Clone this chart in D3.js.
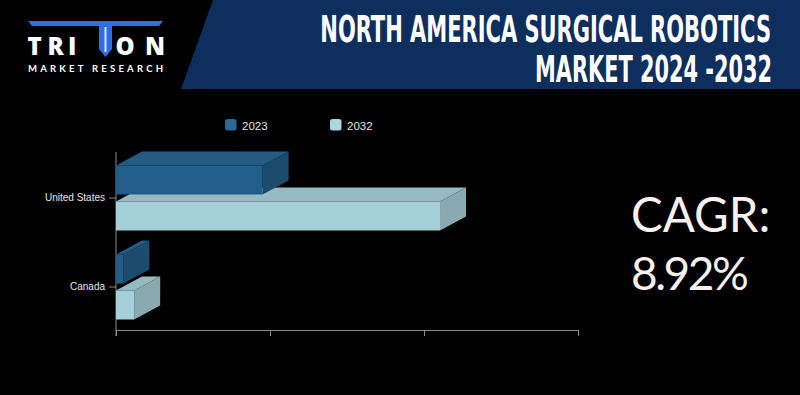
<!DOCTYPE html>
<html>
<head>
<meta charset="utf-8">
<script src="https://cdn.jsdelivr.net/npm/d3@7/dist/d3.min.js"></script>
<style>
  html, body { margin: 0; padding: 0; background: #000; }
  svg { display: block; }
</style>
</head>
<body>
<svg id="chart" width="800" height="395"></svg>
<script>
// ---- data ----
const categories = ["United States", "Canada"];
const seriesNames = ["2023", "2032"];
const values2023 = [4.76, 0.24];
const values2032 = [10.52, 0.59];
const xTicks = [0, 5, 10, 15];
const titleLines = ["NORTH AMERICA SURGICAL ROBOTICS", "MARKET 2024 -2032"];
const cagrLabel = "CAGR:";
const cagrValue = "8.92%";

// ---- styles ----
const faceColors = {
  "2023": { front: "#215e8a", top: "#245b83", side: "#1c4b6d", legend: "#2a6895" },
  "2032": { front: "#a5cfd9", top: "#97bac2", side: "#8aaab2", legend: "#a9d5df" }
};
const depthX = 26, depthY = 14;

const svg = d3.select("#chart");
svg.append("rect").attr("width", 800).attr("height", 395).attr("fill", "#000");

// ---- header ----
svg.append("polygon")
  .attr("points", "213,0 800,0 800,89 181,89")
  .attr("fill", "#0e2f5e");

// condensed title: fit width by font size, then stretch vertically to the reference cap height
const titleSpec = [
  { y: 41.5, x0: 320, x1: 771 },
  { y: 81.5, x0: 535, x1: 772 }
];
const capTarget = 26.5;
titleLines.forEach((t, i) => {
  const spec = titleSpec[i];
  const g = svg.append("g");
  const txt = g.append("text")
    .attr("x", 0).attr("y", 0)
    .attr("text-anchor", "end")
    .attr("font-family", "'Liberation Sans Narrow', 'DejaVu Sans Condensed', sans-serif")
    .attr("font-weight", "bold")
    .attr("font-size", 36)
    .attr("fill", "#ffffff")
    .text(t);
  const natural = txt.node().getComputedTextLength();
  const fs = 36 * (spec.x1 - spec.x0) / natural;
  txt.attr("font-size", fs);
  const sy = capTarget / (fs * 0.72);
  g.attr("transform", `translate(${spec.x1},${spec.y}) scale(1,${sy})`);
});

// ---- logo ----
const logo = svg.append("g");
logo.append("polygon")
  .attr("points", "28,21 163,21 159,26 32,26")
  .attr("fill", "#2f6fe6");
logo.append("polygon")
  .attr("points", "99,25 112,25 112,49 105.5,57 99,49")
  .attr("fill", "#2f6fe6");
logo.append("rect").attr("x", 104.5).attr("y", 27).attr("width", 2).attr("height", 25).attr("fill", "#cfe0ff");
[["T", 27.5], ["R", 47.5], ["I", 68], ["O", 115.5], ["N", 145]].forEach(([ch, x]) => {
  logo.append("text")
    .attr("x", x).attr("y", 54.5)
    .attr("font-family", "'Open Sans', Lato, sans-serif")
    .attr("font-weight", 800)
    .attr("font-size", 24)
    .attr("fill", "#ffffff")
    .text(ch);
});
logo.append("text")
  .attr("x", 28).attr("y", 71.5)
  .attr("textLength", 135)
  .attr("lengthAdjust", "spacing")
  .attr("font-family", "Lato, 'Open Sans', sans-serif")
  .attr("font-weight", "bold")
  .attr("font-size", 9.5)
  .attr("fill", "#ffffff")
  .text("MARKET RESEARCH");

// ---- scales ----
const x = d3.scaleLinear().domain([xTicks[0], xTicks[xTicks.length - 1]]).range([116, 578]);
const y = d3.scaleBand().domain(categories).range([153.5, 331.5]).padding(0);
const ySub = d3.scaleBand().domain(seriesNames).range([12, 77]).paddingInner(7 / 36).paddingOuter(0);
const axisY = 330;

// ---- axes ----
const axisColor = "#8c8c8c";
const xAxis = svg.append("g")
  .attr("transform", `translate(0,${axisY})`)
  .call(d3.axisBottom(x).tickValues(xTicks).tickSize(6).tickFormat(""));
xAxis.select(".domain").attr("stroke", axisColor);
xAxis.selectAll(".tick line").attr("stroke", axisColor);

const yAxis = svg.append("g")
  .attr("transform", `translate(${x(0)},0)`)
  .call(d3.axisLeft(y).tickSize(7).tickPadding(4));
yAxis.select(".domain").attr("d", `M0,152V336`).attr("stroke", axisColor);
yAxis.selectAll(".tick line").attr("stroke", axisColor);
yAxis.selectAll(".tick text")
  .attr("fill", "#e8e8e8")
  .attr("font-family", "'Liberation Sans', Arial, sans-serif")
  .attr("font-size", 10);

// ---- 3D bars ----
const rows = [];
categories.forEach((c, i) => {
  rows.push({ cat: c, series: "2023", value: values2023[i] });
  rows.push({ cat: c, series: "2032", value: values2032[i] });
});
// draw lower bars first so upper bars overlap their top faces
const drawOrder = rows.slice().reverse();
const bars = svg.append("g");
drawOrder.forEach(d => {
  const x0 = x(0), x1 = x(d.value);
  const top = y(d.cat) + ySub(d.series);
  const h = ySub.bandwidth();
  const col = faceColors[d.series];
  const g = bars.append("g");
  g.append("polygon")
    .attr("points", [[x0, top], [x0 + depthX, top - depthY], [x1 + depthX, top - depthY], [x1, top]].join(" "))
    .attr("fill", col.top);
  g.append("polygon")
    .attr("points", [[x1, top], [x1 + depthX, top - depthY], [x1 + depthX, top + h - depthY], [x1, top + h]].join(" "))
    .attr("fill", col.side);
  g.append("rect")
    .attr("x", x0).attr("y", top)
    .attr("width", x1 - x0).attr("height", h)
    .attr("fill", col.front);
});

// ---- legend ----
const legendX = [225, 330];
seriesNames.forEach((s, i) => {
  svg.append("rect")
    .attr("x", legendX[i]).attr("y", 119)
    .attr("width", 11.5).attr("height", 11.5)
    .attr("rx", 2.5)
    .attr("fill", faceColors[s].legend);
  svg.append("text")
    .attr("x", legendX[i] + 17).attr("y", 129.5)
    .attr("font-family", "'Liberation Sans', Arial, sans-serif")
    .attr("font-size", 11.5)
    .attr("fill", "#e8e8e8")
    .text(s);
});

// ---- CAGR ----
svg.append("text")
  .attr("x", 631).attr("y", 231.5)
  .attr("font-family", "Lato, 'Open Sans', sans-serif")
  .attr("font-size", 47.5)
  .attr("fill", "#f8f0f0")
  .text(cagrLabel);
svg.append("text")
  .attr("x", 631).attr("y", 290)
  .attr("font-family", "Lato, 'Open Sans', sans-serif")
  .attr("font-size", 46)
  .attr("letter-spacing", -2.5)
  .attr("fill", "#f8f0f0")
  .text(cagrValue);
</script>
</body>
</html>
